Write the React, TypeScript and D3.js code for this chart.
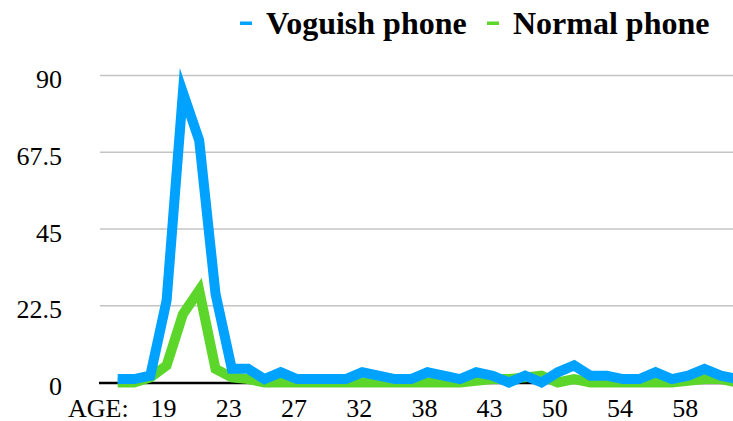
import React from "react";
import * as d3 from "d3";

// Category index 0 is the "AGE:" label slot (no data); data starts at index 1
const tickLabels = ["AGE:", "19", "23", "27", "32", "38", "43", "50", "54", "58"];
const tickEvery = 4;
const voguish = [1, 1, 2, 24, 85, 71, 26, 4, 4, 1, 3, 1, 1, 1, 1, 3, 2, 1, 1, 3, 2, 1, 3, 2, 0, 2, 0, 3, 5, 2, 2, 1, 1, 3, 1, 2, 4, 2, 1];
const normal = [0, 0, 1.5, 5, 20, 27, 4, 1.5, 1, 0, 0, 0, 0, 0, 0, 0, 0, 0, 0, 0, 0, 0, 0.5, 1, 1, 1.5, 2, 0, 1, 0, 0, 0, 0, 0, 0, 0.5, 1, 1, 0];
const yTicks = [0, 22.5, 45, 67.5, 90];
const yTickLabels = ["0", "22.5", "45", "67.5", "90"];
const seriesNames = ["Voguish phone", "Normal phone"];

const W = 733;
const H = 421;
const BLUE = "#00a2ff";
const GREEN = "#5dd62c";
const FONT = "'Liberation Serif', 'Times New Roman', serif";

export default function App() {
  const nCats = voguish.length + 1;
  const x = d3.scaleLinear().domain([0, nCats - 1]).range([101.4, 101.4 + 16.3 * (nCats - 1)]);
  const y = d3.scaleLinear().domain([0, 90]).range([382.5, 75.5]);

  const line = d3
    .line<number>()
    .x((_, i) => x(i + 1))
    .y((d) => y(d));

  return (
    <svg
      width={W}
      height={H}
      style={{ position: "absolute", left: 0, top: 0, background: "#fff" }}
      fontFamily={FONT}
    >
      {/* gridlines */}
      {yTicks.slice(1).map((t) => (
        <line key={t} x1={100} x2={W} y1={y(t)} y2={y(t)} stroke="#c4c4c4" strokeWidth={1.5} />
      ))}
      {/* y labels */}
      {yTicks.map((t, i) => (
        <text key={t} x={62} y={y(t) + 12.5} textAnchor="end" fontSize={26} fill="#000">
          {yTickLabels[i]}
        </text>
      ))}
      {/* zero axis */}
      <line x1={99} x2={W} y1={y(0) + 0.5} y2={y(0) + 0.5} stroke="#000" strokeWidth={2.5} />
      {/* x labels */}
      {tickLabels.map((l, k) => (
        <text key={l} x={x(k * tickEvery) - 3} y={416.5} textAnchor="middle" fontSize={26} fill="#000">
          {l}
        </text>
      ))}
      {/* series */}
      <path d={line(normal) || ""} fill="none" stroke={GREEN} strokeWidth={10} strokeLinejoin="miter" strokeMiterlimit={10} />
      <path d={line(voguish) || ""} fill="none" stroke={BLUE} strokeWidth={10} strokeLinejoin="miter" strokeMiterlimit={10} />
      {/* legend */}
      <rect x={240} y={21.5} width={12} height={3.5} fill={BLUE} />
      <text x={266} y={33.5} fontSize={32} fontWeight="bold" fill="#000">
        {seriesNames[0]}
      </text>
      <rect x={487} y={21.5} width={12} height={3.5} fill={GREEN} />
      <text x={513} y={33.5} fontSize={32} fontWeight="bold" fill="#000">
        {seriesNames[1]}
      </text>
    </svg>
  );
}
